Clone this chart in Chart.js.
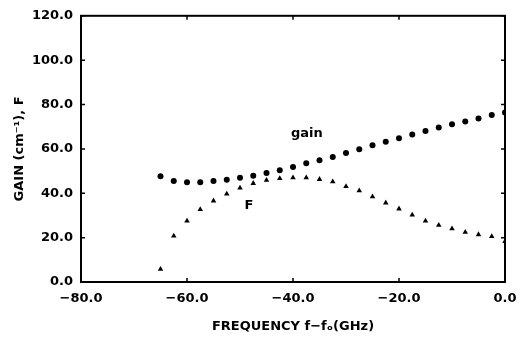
<!DOCTYPE html>
<html>
<head>
<meta charset="utf-8">
<script src="https://cdn.jsdelivr.net/npm/chart.js@4/dist/chart.umd.min.js"></script>
<style>
  html, body { margin: 0; padding: 0; background: #fff; }
  #wrap { width: 531px; height: 351px; }
</style>
</head>
<body>
<div id="wrap"><canvas id="chart" width="531" height="351"></canvas></div>
<script>
// frequency offset f - f0 (GHz)
var freq = [-65, -62.5, -60, -57.5, -55, -52.5, -50, -47.5, -45, -42.5, -40, -37.5, -35, -32.5,
            -30, -27.5, -25, -22.5, -20, -17.5, -15, -12.5, -10, -7.5, -5, -2.5, 0];
// gain (cm^-1)
var gain = [47.7, 45.5, 45.0, 45.0, 45.5, 46.1, 47.0, 47.9, 49.1, 50.4, 51.8, 53.5, 54.9, 56.3,
            58.1, 59.8, 61.6, 63.2, 64.8, 66.5, 68.1, 69.6, 71.1, 72.4, 73.7, 75.3, 76.4];
// F
var fval = [5.8, 20.8, 27.5, 32.7, 36.6, 39.7, 42.4, 44.5, 45.9, 46.7, 47.0, 47.0, 46.3, 45.2,
            43.1, 41.2, 38.5, 35.7, 33.0, 30.2, 27.5, 25.6, 24.0, 22.5, 21.4, 20.5, 18.3];

var xTicks = [-80, -60, -40, -20, 0];
var yTicks = [0, 20, 40, 60, 80, 100, 120];

// text labels next to the curves (data coordinates)
var notes = [
  { text: 'gain', x: -37.4, y: 67 },
  { text: 'F', x: -48.3, y: 34.4 }
];

var fontMain = { family: 'DejaVu Sans', size: 13, weight: 'bold' };

function pts(ys) {
  var out = [];
  for (var i = 0; i < freq.length; i++) out.push({ x: freq[i], y: ys[i] });
  return out;
}

function fmt(v) {
  var s = Math.abs(v).toFixed(1);
  return v < 0 ? '\u2212' + s : s;
}

// box around the plot, inward ticks, curve notes
var framePlugin = {
  id: 'frame',
  afterDraw: function (chart) {
    var ctx = chart.ctx;
    var a = chart.chartArea;
    var sx = chart.scales.x, sy = chart.scales.y;
    ctx.save();
    ctx.strokeStyle = '#000';
    ctx.lineWidth = 2;
    ctx.strokeRect(a.left, a.top, a.right - a.left, a.bottom - a.top);
    ctx.lineWidth = 1.5;
    ctx.beginPath();
    xTicks.forEach(function (v) {
      var px = sx.getPixelForValue(v);
      ctx.moveTo(px, a.bottom); ctx.lineTo(px, a.bottom - 4);
      ctx.moveTo(px, a.top); ctx.lineTo(px, a.top + 4);
    });
    yTicks.forEach(function (v) {
      var py = sy.getPixelForValue(v);
      ctx.moveTo(a.left, py); ctx.lineTo(a.left + 4, py);
      ctx.moveTo(a.right, py); ctx.lineTo(a.right - 4, py);
    });
    ctx.stroke();
    ctx.fillStyle = '#000';
    ctx.font = 'bold 13px "DejaVu Sans"';
    ctx.textAlign = 'center';
    ctx.textBaseline = 'middle';
    notes.forEach(function (n) {
      ctx.fillText(n.text, sx.getPixelForValue(n.x), sy.getPixelForValue(n.y));
    });
    ctx.restore();
  }
};

var ctx = document.getElementById('chart').getContext('2d');
const chart = new Chart(ctx, {
  type: 'scatter',
  data: {
    datasets: [{
      label: 'gain',
      data: pts(gain),
      pointStyle: 'circle',
      pointRadius: 3,
      backgroundColor: '#000',
      borderColor: '#000',
      borderWidth: 0
    }, {
      label: 'F',
      data: pts(fval),
      pointStyle: 'triangle',
      pointRadius: 3.2,
      backgroundColor: '#000',
      borderColor: '#000',
      borderWidth: 0
    }]
  },
  plugins: [framePlugin],
  options: {
    responsive: false,
    animation: false,
    layout: { padding: { left: 0, top: 13, right: 26, bottom: 0 } },
    plugins: {
      legend: { display: false },
      tooltip: { enabled: false }
    },
    scales: {
      x: {
        type: 'linear',
        min: -80, max: 0,
        afterBuildTicks: function (s) { s.ticks = xTicks.map(function (v) { return { value: v }; }); },
        afterFit: function (s) { s.height = 69; },
        grid: { display: false, drawTicks: false },
        border: { display: false },
        ticks: { color: '#000', font: fontMain, padding: 9, maxRotation: 0, callback: function (v) { return fmt(v); } },
        title: { display: true, text: 'FREQUENCY f\u2212f\u2092(GHz)', color: '#000', font: fontMain, padding: { top: 0, bottom: 17 } }
      },
      y: {
        min: 0, max: 120,
        afterBuildTicks: function (s) { s.ticks = yTicks.map(function (v) { return { value: v }; }); },
        afterFit: function (s) { s.width = 81; },
        grid: { display: false, drawTicks: false },
        border: { display: false },
        ticks: { color: '#000', font: fontMain, padding: 8, callback: function (v) { return fmt(v); } },
        title: { display: true, text: 'GAIN (cm\u207B\u00B9), F', color: '#000', font: fontMain, padding: { top: 12, bottom: 0 } }
      }
    }
  }
});
</script>
</body>
</html>
